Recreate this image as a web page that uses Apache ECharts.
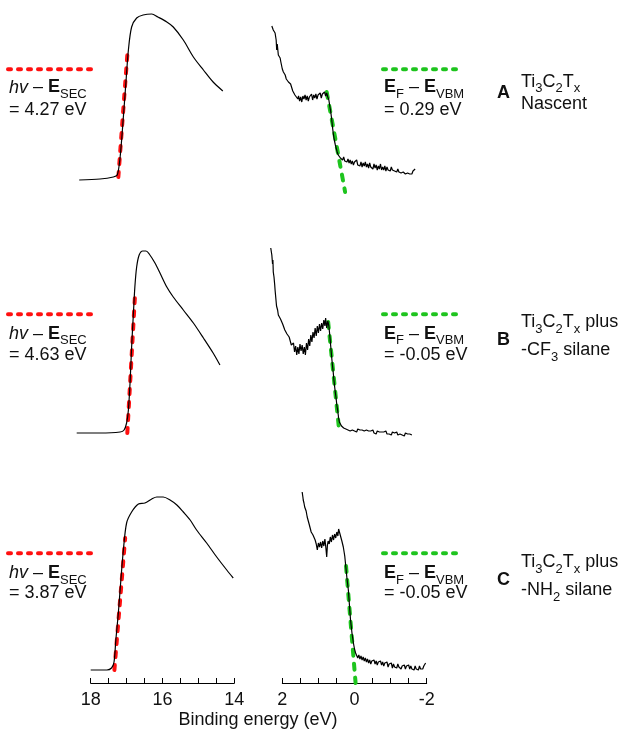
<!DOCTYPE html>
<html>
<head>
<meta charset="utf-8">
<script src="https://cdn.jsdelivr.net/npm/echarts@6/dist/echarts.min.js"></script>
<style>
  html, body { margin: 0; padding: 0; background: #fff; }
  #chart { width: 622px; height: 731px; }
</style>
</head>
<body>
<div id="chart"></div>
<script>
// secondary electron cutoff (left column), [binding energy eV, intensity a.u.]
var secA = [[18.32,20],[17.74,21],[17.37,23],[17.26,25],[17.18,43],[17.09,83],[17.02,117],[16.95,150],[16.86,173],[16.72,182],[16.54,185],[16.30,186],[16.13,183],[15.88,178],[15.70,173],[15.42,160],[15.14,143],[14.86,130],[14.59,118],[14.32,109]];
var secB = [[18.39,17],[17.74,17],[17.18,18],[17.07,20],[17.00,27],[16.95,40],[16.90,70],[16.86,103],[16.81,137],[16.77,163],[16.72,183],[16.65,195],[16.55,199],[16.46,199],[16.37,196],[16.21,187],[16.07,177],[15.88,163],[15.70,153],[15.42,140],[15.14,127],[14.86,112],[14.59,97],[14.40,85]];
var secC = [[18.00,13],[17.55,13],[17.42,15],[17.35,21],[17.30,43],[17.23,70],[17.16,103],[17.09,133],[17.00,160],[16.86,171],[16.67,179],[16.49,180],[16.30,184],[16.16,186],[15.98,186],[15.79,183],[15.60,178],[15.42,171],[15.23,163],[15.05,153],[14.77,140],[14.49,126],[14.21,113],[14.03,105]];

// valence band edge (right column)
var vbA = [[2.29,174],[2.25,170],[2.20,167],[2.17,160],[2.155,150],[2.14,156],[2.11,145],[2.09,146],[2.06,142],[2.04,138],[2.02,137],[2.00,131],[1.97,128],[1.95,126],[1.92,125],[1.89,121],[1.86,120],[1.83,118],[1.80,117],[1.77,116],[1.74,115],[1.71,109],[1.68,110],[1.65,105],[1.62,103],[1.60,106],[1.57,101],[1.55,104],[1.52,99],[1.49,103],[1.46,98],[1.43,104],[1.40,101],[1.37,105],[1.34,100],[1.31,104],[1.28,99],[1.25,103],[1.22,101],[1.19,106],[1.16,100],[1.13,105],[1.10,102],[1.07,106],[1.04,101],[1.01,105],[0.98,103],[0.95,107],[0.92,102],[0.89,106],[0.86,104],[0.83,108],[0.80,104],[0.77,107],[0.74,103],[0.71,100],[0.68,93],[0.65,86],[0.63,80],[0.61,73],[0.59,67],[0.56,60],[0.53,55],[0.51,53],[0.48,48],[0.45,45],[0.42,46],[0.39,42],[0.36,44],[0.33,40],[0.30,43],[0.27,39],[0.24,41],[0.21,38],[0.18,41],[0.15,37],[0.12,40],[0.09,36],[0.06,39],[0.03,35],[0.00,38],[-0.03,36],[-0.06,40],[-0.09,35],[-0.12,37],[-0.15,34],[-0.18,38],[-0.21,33],[-0.24,37],[-0.27,34],[-0.30,38],[-0.33,33],[-0.36,36],[-0.39,32],[-0.42,37],[-0.45,33],[-0.48,35],[-0.51,31],[-0.54,36],[-0.57,32],[-0.60,35],[-0.63,30],[-0.66,34],[-0.69,31],[-0.72,36],[-0.75,30],[-0.78,33],[-0.81,30],[-0.84,34],[-0.87,29],[-0.90,33],[-0.93,30],[-0.96,32],[-0.99,29],[-1.02,33],[-1.05,30],[-1.08,32],[-1.11,29],[-1.14,31],[-1.17,28],[-1.20,31],[-1.23,28],[-1.26,30],[-1.29,27],[-1.32,29],[-1.35,28],[-1.38,29],[-1.41,26],[-1.44,28],[-1.47,27],[-1.50,28],[-1.53,26],[-1.56,27],[-1.59,26],[-1.62,29],[-1.65,27],[-1.68,31]];
var vbB = [[2.32,202],[2.29,195],[2.27,186],[2.26,190],[2.25,178],[2.23,173],[2.21,165],[2.20,160],[2.18,152],[2.16,144],[2.13,140],[2.11,135],[2.08,133],[2.05,131],[2.02,130],[1.99,126],[1.96,124],[1.93,120],[1.90,119],[1.87,116],[1.84,117],[1.81,113],[1.78,112],[1.75,105],[1.72,103],[1.69,107],[1.66,98],[1.63,104],[1.60,95],[1.57,103],[1.54,96],[1.51,106],[1.48,99],[1.45,105],[1.42,96],[1.39,103],[1.36,95],[1.33,107],[1.30,100],[1.27,111],[1.24,104],[1.21,115],[1.18,108],[1.15,118],[1.12,112],[1.09,122],[1.06,114],[1.03,124],[1.00,117],[0.97,126],[0.94,119],[0.91,127],[0.88,121],[0.85,130],[0.82,124],[0.80,132],[0.77,122],[0.74,129],[0.71,124],[0.68,113],[0.65,100],[0.62,88],[0.59,78],[0.57,70],[0.54,60],[0.51,52],[0.49,45],[0.46,38],[0.44,32],[0.42,28],[0.39,26],[0.36,24],[0.33,25],[0.30,22],[0.27,24],[0.24,21],[0.21,23],[0.18,20],[0.15,22],[0.12,19],[0.09,21],[0.06,20],[0.03,22],[0.00,19],[-0.03,21],[-0.06,18],[-0.09,21],[-0.12,19],[-0.15,20],[-0.18,18],[-0.21,20],[-0.24,18],[-0.27,19],[-0.30,17],[-0.33,20],[-0.36,18],[-0.39,19],[-0.42,17],[-0.45,19],[-0.48,17],[-0.51,20],[-0.54,17],[-0.57,18],[-0.60,16],[-0.63,19],[-0.66,17],[-0.69,18],[-0.72,16],[-0.75,18],[-0.78,16],[-0.81,18],[-0.84,17],[-0.87,19],[-0.90,16],[-0.93,18],[-0.96,16],[-0.99,17],[-1.02,15],[-1.05,18],[-1.08,16],[-1.11,17],[-1.14,15],[-1.17,18],[-1.20,15],[-1.23,17],[-1.26,16],[-1.29,18],[-1.32,15],[-1.35,16],[-1.38,14],[-1.41,17],[-1.44,15],[-1.47,16],[-1.50,14],[-1.53,16],[-1.56,14],[-1.59,15]];
var vbC = [[1.45,191],[1.43,186],[1.42,183],[1.40,180],[1.38,176],[1.36,178],[1.34,172],[1.31,166],[1.28,162],[1.25,158],[1.23,156],[1.20,151],[1.17,152],[1.15,148],[1.12,146],[1.09,143],[1.06,139],[1.03,133],[1.00,140],[0.97,136],[0.94,141],[0.91,135],[0.88,142],[0.85,137],[0.82,144],[0.79,134],[0.77,126],[0.75,138],[0.73,142],[0.70,139],[0.67,146],[0.64,141],[0.61,148],[0.58,143],[0.55,149],[0.52,145],[0.49,151],[0.46,147],[0.44,154],[0.41,150],[0.38,148],[0.35,142],[0.31,136],[0.27,127],[0.24,116],[0.21,105],[0.17,93],[0.14,78],[0.11,63],[0.07,50],[0.03,40],[0.00,34],[-0.03,30],[-0.06,31],[-0.09,25],[-0.12,28],[-0.15,24],[-0.18,27],[-0.21,23],[-0.24,26],[-0.27,22],[-0.30,25],[-0.33,21],[-0.36,24],[-0.39,20],[-0.42,23],[-0.45,19],[-0.48,22],[-0.51,20],[-0.54,23],[-0.57,19],[-0.60,22],[-0.63,18],[-0.66,21],[-0.69,19],[-0.72,22],[-0.75,18],[-0.78,21],[-0.81,17],[-0.84,20],[-0.87,18],[-0.90,21],[-0.93,16],[-0.96,19],[-0.99,17],[-1.02,20],[-1.05,15],[-1.08,19],[-1.11,16],[-1.14,18],[-1.17,15],[-1.20,19],[-1.23,16],[-1.26,18],[-1.29,14],[-1.32,17],[-1.35,15],[-1.38,18],[-1.41,14],[-1.44,17],[-1.47,15],[-1.50,18],[-1.53,14],[-1.56,17],[-1.59,14],[-1.62,16],[-1.65,13],[-1.68,17],[-1.71,14],[-1.74,16],[-1.77,13],[-1.80,17],[-1.83,14],[-1.86,16],[-1.89,14],[-1.92,17],[-1.95,15],[-1.97,20]];

// linear fits
var fitSecA = [[17.23,23],[16.97,150]];
var fitSecB = [[16.98,17],[16.77,152]];
var fitSecC = [[17.34,13],[17.04,145]];
var fitVbA = [[0.77,108],[0.26,8]];
var fitVbB = [[0.73,128],[0.42,18]];
var fitVbC = [[0.235,117],[-0.03,0]];

var secValues = ['= 4.27 eV', '= 4.63 eV', '= 3.87 eV'];
var vbmValues = ['= 0.29 eV', '= -0.05 eV', '= -0.05 eV'];
var sampleLetters = ['A', 'B', 'C'];
var sampleLine1 = ['Ti{s|3}C{s|2}T{s|x}', 'Ti{s|3}C{s|2}T{s|x} plus', 'Ti{s|3}C{s|2}T{s|x} plus'];
var sampleLine2 = ['Nascent', '-CF{s|3} silane', '-NH{s|2} silane'];

var FONT = 'Liberation Sans, Arial, Helvetica, sans-serif';
var RED = '#ff1010';
var GREEN = '#1ec41e';
var PX_PER_EV_L = 35.9, PX_PER_EV_R = 36.1;

var rows = [
  { top: 0, height: 200, legendY: 69.3, l1: 87.5, l2: 110, s1: 81.7, s2: 104.4, letter: 93 },
  { top: 230, height: 220, legendY: 314.3, l1: 333.8, l2: 354.6, s1: 322.2, s2: 350.5, letter: 339.7 },
  { top: 470, height: 213, legendY: 553.3, l1: 573.3, l2: 593.3, s1: 562.2, s2: 590.5, letter: 579.7 }
];
var secData = [secA, secB, secC];
var vbData = [vbA, vbB, vbC];
var fitSec = [fitSecA, fitSecB, fitSecC];
var fitVb = [fitVbA, fitVbB, fitVbC];

var rich = {
  n: { fontSize: 18, fontFamily: FONT, fill: '#111' },
  i: { fontSize: 18, fontFamily: FONT, fontStyle: 'italic', fill: '#111' },
  b: { fontSize: 18, fontFamily: FONT, fontWeight: 'bold', fill: '#111' },
  s: { fontSize: 13, fontFamily: FONT, fill: '#111', padding: [14, 0, 0, 0] }
};

function label(x, y, text) {
  return {
    type: 'text', x: x, y: y, silent: true,
    style: { text: text, rich: rich, fontSize: 18, fontFamily: FONT, fill: '#111', verticalAlign: 'middle', align: 'left' }
  };
}
function dotted(x1, x2, y, color) {
  return {
    type: 'line', silent: true,
    shape: { x1: x1, y1: y, x2: x2, y2: y },
    style: { stroke: color, lineWidth: 4, lineDash: [3, 7], lineCap: 'round' }
  };
}

var grids = [], xAxes = [], yAxes = [], series = [], graphics = [];
rows.forEach(function (r, k) {
  var last = k === rows.length - 1;
  // hidden upper axes get 0.5 eV extra at the high end so the traces that start before 18 / 2 eV are kept
  var extra = last ? 0 : 0.5;
  [[90.7, 143.6, 14, 18, PX_PER_EV_L], [282.3, 144.4, -2, 2, PX_PER_EV_R]].forEach(function (p, j) {
    var idx = grids.length;
    var pad = extra * p[4];
    grids.push({ left: p[0] - pad, width: p[1] + pad, top: r.top, height: r.height });
    xAxes.push({
      gridIndex: idx, type: 'value', min: p[2], max: p[3] + extra, interval: 0.5, inverse: true, show: last,
      splitLine: { show: false },
      axisLine: { lineStyle: { color: '#000', width: 1 } },
      axisTick: { inside: true, length: 5, lineStyle: { color: '#000', width: 1 } },
      axisLabel: {
        fontSize: 18, fontFamily: FONT, color: '#111', margin: 8,
        formatter: function (v) { return v % 2 === 0 ? String(v) : ''; }
      }
    });
    yAxes.push({ gridIndex: idx, type: 'value', min: 0, max: r.height, show: false });
    var isSec = j === 0;
    series.push({
      type: 'line', xAxisIndex: idx, yAxisIndex: idx, data: isSec ? fitSec[k] : fitVb[k],
      symbol: 'none', clip: false, silent: true,
      lineStyle: { color: isSec ? RED : GREEN, width: 4, type: isSec ? [5, 8] : [6, 8], cap: 'round' }
    });
    series.push({
      type: 'line', xAxisIndex: idx, yAxisIndex: idx, data: isSec ? secData[k] : vbData[k],
      symbol: 'none', clip: false, silent: true, smooth: isSec ? 0.3 : false,
      lineStyle: { color: '#000', width: 1.2 }
    });
  });

  graphics.push(dotted(8, 93, r.legendY, RED));
  graphics.push(label(9, r.l1, '{i|hv} – {b|E}{s|SEC}'));
  graphics.push(label(9, r.l2, secValues[k]));
  graphics.push(dotted(383, 463, r.legendY, GREEN));
  graphics.push(label(384, r.l1, '{b|E}{s|F} – {b|E}{s|VBM}'));
  graphics.push(label(384, r.l2, vbmValues[k]));
  graphics.push(label(497, r.letter, '{b|' + sampleLetters[k] + '}'));
  graphics.push(label(521, r.s1, sampleLine1[k]));
  graphics.push(label(521, r.s2, sampleLine2[k]));
});
graphics.push({
  type: 'text', x: 258, y: 720, silent: true,
  style: { text: 'Binding energy (eV)', fontSize: 18, fontFamily: FONT, fill: '#111', align: 'center', verticalAlign: 'middle' }
});

var chart = echarts.init(document.getElementById('chart'));
chart.setOption({
  animation: false,
  backgroundColor: '#fff',
  grid: grids,
  xAxis: xAxes,
  yAxis: yAxes,
  series: series,
  graphic: graphics
});
</script>
</body>
</html>
